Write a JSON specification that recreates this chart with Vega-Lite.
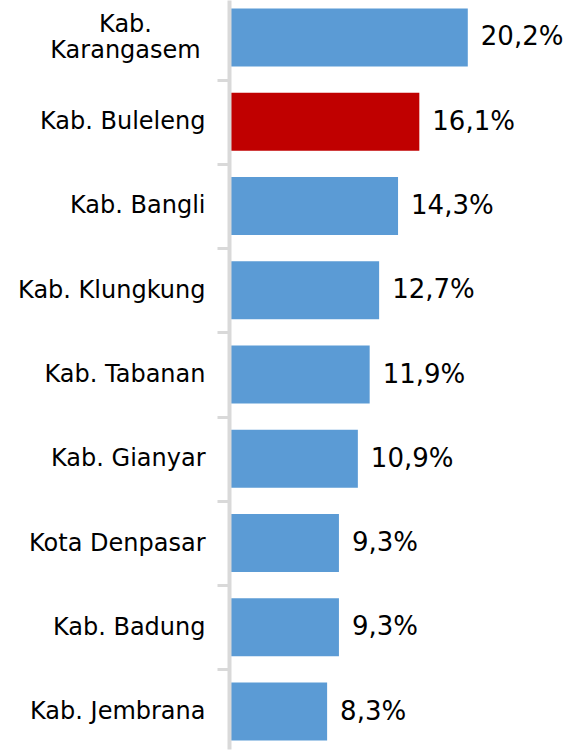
{
  "$schema": "https://vega.github.io/schema/vega-lite/v6.json",
  "width": 331,
  "height": 749,
  "autosize": {"type": "none"},
  "padding": {"left": 229, "top": 0, "right": 10, "bottom": 3},
  "background": "#ffffff",
  "config": {"view": {"stroke": null}, "font": "DejaVu Sans"},
  "data": {
    "values": [
      {"name": "Kab. Karangasem", "value": 20.2, "label": "20,2%"},
      {"name": "Kab. Buleleng", "value": 16.1, "label": "16,1%"},
      {"name": "Kab. Bangli", "value": 14.3, "label": "14,3%"},
      {"name": "Kab. Klungkung", "value": 12.7, "label": "12,7%"},
      {"name": "Kab. Tabanan", "value": 11.9, "label": "11,9%"},
      {"name": "Kab. Gianyar", "value": 10.9, "label": "10,9%"},
      {"name": "Kota Denpasar", "value": 9.3, "label": "9,3%"},
      {"name": "Kab. Badung", "value": 9.3, "label": "9,3%"},
      {"name": "Kab. Jembrana", "value": 8.3, "label": "8,3%"}
    ]
  },
  "encoding": {
    "y": {
      "field": "name",
      "type": "nominal",
      "sort": null,
      "scale": {"paddingInner": 0.31, "paddingOuter": 0.1},
      "axis": {
        "title": null,
        "zindex": 1,
        "domainColor": "#d9d9d9",
        "domainWidth": 4,
        "tickColor": "#d9d9d9",
        "tickWidth": 3,
        "tickSize": 12,
        "tickOffset": 42.1,
        "labelOffset": {"condition": {"test": "datum.value === 'Kab. Karangasem'", "value": -55}, "value": -42.1},
        "labelFont": "DejaVu Sans",
        "labelFontSize": 24,
        "labelColor": "#000000",
        "labelLimit": 0,
        "labelBaseline": "middle",
        "labelLineHeight": 26,
        "labelExpr": "datum.value === 'Kab. Karangasem' ? ['Kab.', 'Karangasem'] : datum.value",
        "labelAlign": {"condition": {"test": "datum.value === 'Kab. Karangasem'", "value": "center"}, "value": "right"},
        "labelPadding": {"condition": {"test": "datum.value === 'Kab. Karangasem'", "value": 92}, "value": 12}
      }
    },
    "x": {"field": "value", "type": "quantitative", "scale": {"domain": [0, 28]}, "axis": null}
  },
  "layer": [
    {
      "mark": {"type": "bar"},
      "encoding": {
        "color": {"condition": {"test": "datum.name === 'Kab. Buleleng'", "value": "#C00000"}, "value": "#5B9BD5"}
      }
    },
    {
      "mark": {"type": "text", "align": "left", "baseline": "middle", "dx": 13, "fontSize": 26, "font": "DejaVu Sans", "color": "#000000"},
      "encoding": {"text": {"field": "label"}}
    }
  ]
}
